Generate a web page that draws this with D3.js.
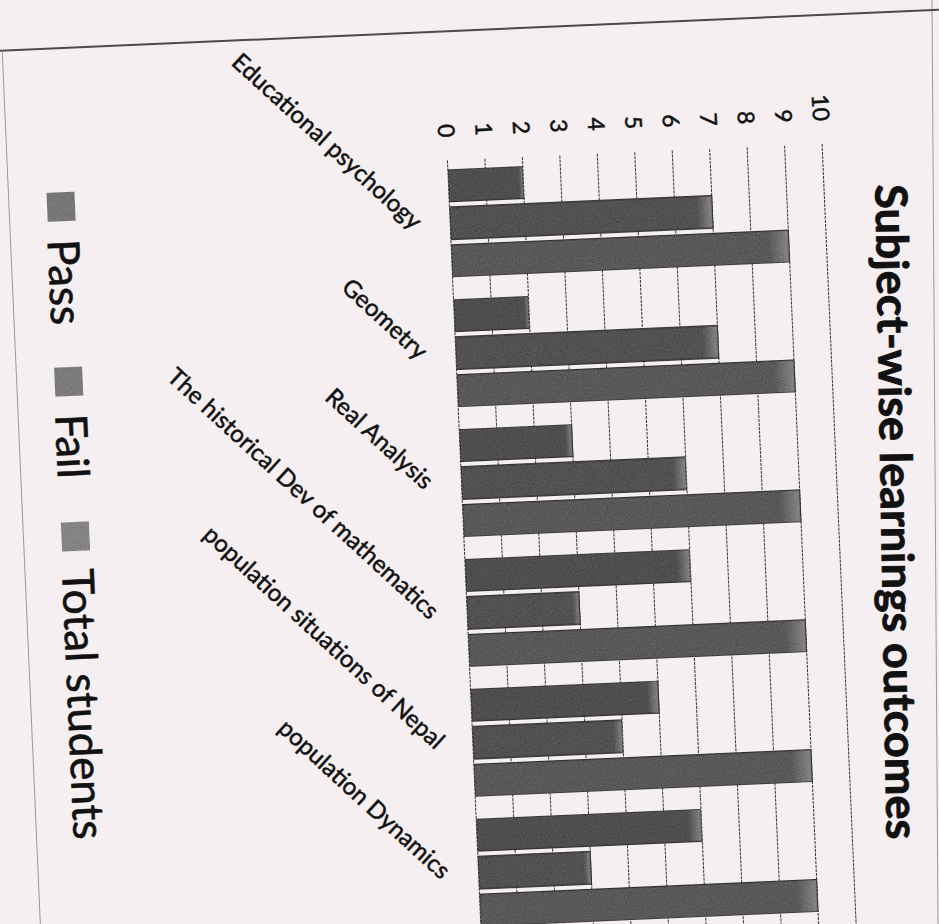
<!DOCTYPE html>
<html>
<head>
<meta charset="utf-8">
<script src="https://cdn.jsdelivr.net/npm/d3@7/dist/d3.min.js"></script>
<style>
  html, body { margin: 0; padding: 0; background: #f6eff1; }
  svg { display: block; }
</style>
</head>
<body>
<svg id="chart" width="939" height="924"></svg>
<script>
// ---- data ----
const categories = [
  "Educational psychology",
  "Geometry",
  "Real Analysis",
  "The historical Dev of mathematics",
  "population situations of Nepal",
  "population Dynamics"
];
const seriesNames = ["Pass", "Fail", "Total students"];
const passValues  = [2, 2, 3, 6, 5, 6];
const failValues  = [7, 7, 6, 3, 4, 3];
const totalValues = [9, 9, 9, 9, 9, 9];
const tickValues  = [0, 1, 2, 3, 4, 5, 6, 7, 8, 9, 10];
const titleText   = "Subject-wise learnings outcomes";

const seriesValues = [passValues, failValues, totalValues];
const seriesColors = ["#3c3c3c", "#404040", "#4a4a4a"];
const legendColors = ["#747474", "#7a7a7a", "#868686"];
const FONT = "Lato, 'DejaVu Sans', sans-serif";

const svg = d3.select("#chart");
svg.append("rect").attr("width", 939).attr("height", 924).attr("fill", "#f6eff1");

const defs = svg.append("defs");
seriesColors.forEach((c, i) => {
  const g = defs.append("linearGradient").attr("id", "bg" + i)
    .attr("x1", "0").attr("x2", "1").attr("y1", "0").attr("y2", "0");
  g.append("stop").attr("offset", "0").attr("stop-color", c);
  g.append("stop").attr("offset", "0.94").attr("stop-color", c);
  g.append("stop").attr("offset", "1").attr("stop-color", "#8a8a8a");
});
const noise = defs.append("filter").attr("id", "grain")
  .attr("x", 0).attr("y", 0).attr("width", 1).attr("height", 1)
  .attr("color-interpolation-filters", "sRGB");
noise.append("feTurbulence").attr("type", "fractalNoise").attr("baseFrequency", "0.95").attr("numOctaves", 1).attr("result", "n");
noise.append("feColorMatrix").attr("in", "n").attr("type", "matrix")
  .attr("values", "1 0 0 0 0  1 0 0 0 0  1 0 0 0 0  0 0 0 0 0.28").attr("result", "nm");
noise.append("feComposite").attr("in", "nm").attr("in2", "SourceGraphic").attr("operator", "in").attr("result", "nc");
const fm = noise.append("feMerge");
fm.append("feMergeNode").attr("in", "SourceGraphic");
fm.append("feMergeNode").attr("in", "nc");

// right page line (not tilted like the chart)
svg.append("line").attr("x1", 932).attr("y1", 0).attr("x2", 938).attr("y2", 924)
  .attr("stroke", "#9a9a9a").attr("stroke-width", 1);

// title (its own slight tilt in the scan)
svg.append("text")
  .attr("transform", "translate(881,512) rotate(89)")
  .attr("text-anchor", "middle")
  .attr("font-family", FONT).attr("font-weight", "bold")
  .attr("font-size", 44).attr("textLength", 655).attr("lengthAdjust", "spacingAndGlyphs")
  .attr("fill", "#111").attr("stroke", "#111").attr("stroke-width", 0.9)
  .text(titleText);

// whole scanned chart is slightly tilted
const page = svg.append("g").attr("transform", "rotate(-2.5, 464, 540)");

// chart border
page.append("line").attr("x1", -60).attr("x2", 1000).attr("y1", 31).attr("y2", 31)
  .attr("stroke", "#4a4a4a").attr("stroke-width", 2);
page.append("line").attr("x1", 24).attr("x2", 24).attr("y1", 31).attr("y2", 1000)
  .attr("stroke", "#999").attr("stroke-width", 1);

// scales (chart is rotated: values run left->right, categories top->bottom)
const x = d3.scaleLinear().domain([0, 10]).range([464, 839]);
const y = d3.scaleBand().domain(categories).range([158, 938]);
const yInner = d3.scaleBand().domain(seriesNames).range([11, 119]).paddingInner(0.14);

// gridlines
page.append("g").selectAll("line").data(tickValues).join("line")
  .attr("x1", d => x(d)).attr("x2", d => x(d))
  .attr("y1", 160).attr("y2", 960)
  .attr("stroke", "#333").attr("stroke-width", 1).attr("stroke-dasharray", "3,1");

// tick labels (rotated 90deg)
page.append("g").selectAll("text").data(tickValues).join("text")
  .attr("transform", d => `translate(${x(d)},137) rotate(90)`)
  .attr("text-anchor", "end").attr("dy", "0.35em")
  .attr("font-family", FONT).attr("font-size", 23)
  .attr("fill", "#111").attr("stroke", "#111").attr("stroke-width", 0.5)
  .text(d => d);

// bars
const groups = page.append("g").selectAll("g").data(categories).join("g")
  .attr("transform", c => `translate(0,${y(c)})`);
groups.selectAll("rect").data((c, ci) => seriesNames.map((s, si) => ({ s, si, v: seriesValues[si][ci] })))
  .join("rect")
  .attr("x", x(0))
  .attr("y", d => yInner(d.s))
  .attr("width", d => x(d.v) - x(0))
  .attr("height", yInner.bandwidth())
  .attr("fill", d => `url(#bg${d.si})`)
  .attr("filter", "url(#grain)")
  .attr("stroke", "#111").attr("stroke-width", 1.3);

// category labels
page.append("g").selectAll("text").data(categories).join("text")
  .attr("transform", c => `translate(${x(0) - 32},${y(c) + y.bandwidth() / 2}) rotate(45)`)
  .attr("text-anchor", "end").attr("dy", "0.35em")
  .attr("font-family", FONT).attr("font-size", 24)
  .attr("fill", "#111").attr("stroke", "#111").attr("stroke-width", 0.5)
  .text(c => c);

// legend
const legendY = [175, 350, 505];
const leg = page.append("g").selectAll("g").data(seriesNames).join("g");
leg.append("rect")
  .attr("x", 62).attr("y", (d, i) => legendY[i]).attr("width", 28).attr("height", 29)
  .attr("fill", (d, i) => legendColors[i]).attr("filter", "url(#grain)");
leg.append("text")
  .attr("transform", (d, i) => `translate(61,${legendY[i] + 47}) rotate(90)`)
  .attr("font-family", FONT).attr("font-size", 44)
  .attr("fill", "#111").attr("stroke", "#111").attr("stroke-width", 0.6)
  .text(d => d);
</script>
</body>
</html>
